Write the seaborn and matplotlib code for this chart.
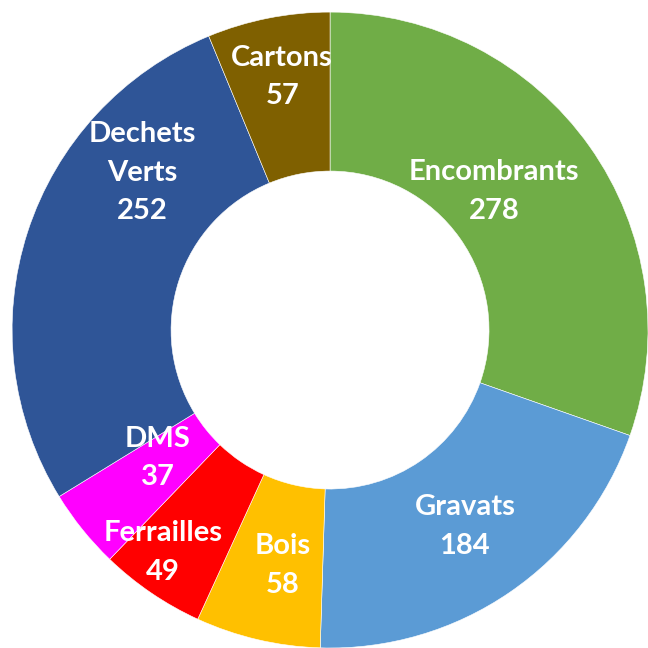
import numpy as np
import matplotlib.pyplot as plt
import seaborn as sns

sns.set_theme(style="white")
plt.rcParams["font.family"] = ["Lato", "DejaVu Sans"]

# data, clockwise from 12 o'clock
categories = ["Encombrants", "Gravats", "Bois", "Ferrailles", "DMS", "Dechets\nVerts", "Cartons"]
values = [278, 184, 58, 49, 37, 252, 57]
colors = ["#70AD47", "#5B9BD5", "#FFC000", "#FF0000", "#FF00FF", "#2F5597", "#7F6000"]

# label placement tweaks (fraction of radius, degrees shift from wedge middle)
label_r = [0.675, 0.75, 0.755, 0.875, 0.675, 0.77, 0.81]
label_shift = [-4.8, 0, -1.7, 2.6, 2.2, 22, 0.5]

fig = plt.figure(figsize=(6.48, 6.48), dpi=100)
ax = fig.add_axes([0, 0, 1, 1])

wedges, _ = ax.pie(values, colors=colors, startangle=90, counterclock=False,
                   radius=1.0, wedgeprops=dict(width=0.5, edgecolor="white", linewidth=0.4))

total = sum(values)
cum = np.cumsum([0] + values)
for i, (lab, v) in enumerate(zip(categories, values)):
    mid_cw = (cum[i] + v / 2) / total * 360 + label_shift[i]
    ang = np.deg2rad(90 - mid_cw)
    x = label_r[i] * np.cos(ang)
    y = label_r[i] * np.sin(ang)
    ax.text(x, y, f"{lab}\n{v}", ha="center", va="center", color="white",
            fontsize=21, fontweight="bold", linespacing=1.6)

ax.set_xlim(-1.038, 1.0)
ax.set_ylim(-1.0, 1.038)
ax.set_aspect("equal")
ax.axis("off")

fig.savefig("out.png", dpi=100)
